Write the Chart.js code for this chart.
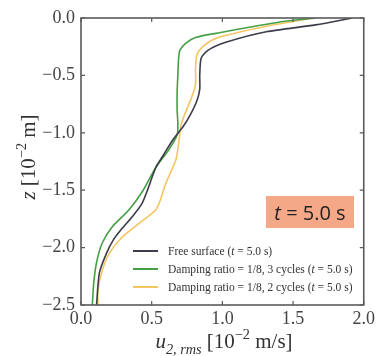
<!DOCTYPE html>
<html>
<head>
<meta charset="utf-8">
<script src="https://cdn.jsdelivr.net/npm/chart.js@4"></script>
<style>
  html, body { margin: 0; padding: 0; background: #fff; }
  #wrap { width: 378px; height: 356px; }
</style>
</head>
<body>
<div id="wrap"><canvas id="myChart" width="378" height="356"></canvas></div>
<script>
// depth z [10^-2 m] and u_2,rms [10^-2 m/s]
const zFree = [0, -0.06, -0.12, -0.21, -0.28, -0.35, -0.5, -0.62, -0.72, -0.85, -0.95, -1.06, -1.2, -1.3, -1.5, -1.62, -1.72, -1.82, -1.93, -2.05, -2.22, -2.5];
const uFree = [1.92, 1.66, 1.31, 1.03, 0.9, 0.85, 0.84, 0.84, 0.82, 0.77, 0.72, 0.65, 0.58, 0.53, 0.47, 0.43, 0.37, 0.3, 0.23, 0.18, 0.13, 0.11];

const z3cyc = [0, -0.03, -0.08, -0.13, -0.17, -0.22, -0.28, -0.36, -0.5, -0.64, -0.8, -0.92, -1.02, -1.15, -1.3, -1.5, -1.67, -1.82, -1.96, -2.13, -2.31, -2.5];
const u3cyc = [1.66, 1.43, 1.19, 0.97, 0.81, 0.74, 0.7, 0.69, 0.685, 0.68, 0.68, 0.685, 0.68, 0.62, 0.53, 0.44, 0.34, 0.22, 0.15, 0.11, 0.09, 0.08];

const z2cyc = [0, -0.08, -0.17, -0.24, -0.32, -0.45, -0.58, -0.7, -0.82, -0.92, -1.0, -1.1, -1.24, -1.44, -1.59, -1.67, -1.79, -1.91, -2.05, -2.2, -2.37, -2.5];
const u2cyc = [1.64, 1.28, 0.97, 0.87, 0.82, 0.81, 0.81, 0.78, 0.74, 0.71, 0.7, 0.69, 0.67, 0.6, 0.56, 0.53, 0.41, 0.29, 0.2, 0.15, 0.12, 0.12];

const seriesNames = ["Free surface", "Damping ratio = 1/8, 3 cycles", "Damping ratio = 1/8, 2 cycles"];
const seriesColors = ["#3c3c4a", "#45a045", "#f5c563"];
const xTicks = [0, 0.5, 1.0, 1.5, 2.0];
const yTicks = [0, -0.5, -1.0, -1.5, -2.0, -2.5];

const toPoints = (us, zs) => us.map((u, i) => ({ x: u, y: zs[i] }));
const serif = "'Liberation Serif', 'DejaVu Serif', serif";
const fmt = v => Number(v).toFixed(1).replace("-", "\u2212");

// draws a run of [text, style] pieces; style: 'i' italic, 'sub', 'sup'
function drawRich(ctx, parts, x, y, size, align) {
  const fontOf = (p) => {
    const s = (p[1] || "").includes("sub") || (p[1] || "").includes("sup") ? size * 0.68 : size;
    return ((p[1] || "").includes("i") ? "italic " : "") + s + "px " + serif;
  };
  let total = 0;
  parts.forEach(p => { ctx.font = fontOf(p); total += ctx.measureText(p[0]).width; });
  let cx = align === "center" ? x - total / 2 : x;
  ctx.textAlign = "left";
  ctx.textBaseline = "alphabetic";
  parts.forEach(p => {
    ctx.font = fontOf(p);
    let dy = 0;
    if ((p[1] || "").includes("sub")) dy = size * 0.28;
    if ((p[1] || "").includes("sup")) dy = -size * 0.42;
    ctx.fillText(p[0], cx, y + dy);
    cx += ctx.measureText(p[0]).width;
  });
}

const decor = {
  id: "decor",
  afterDraw(chart) {
    const { ctx, chartArea: a, scales } = chart;
    ctx.save();
    // frame
    ctx.strokeStyle = "#5a5a5a";
    ctx.lineWidth = 1.6;
    ctx.strokeRect(a.left, a.top, a.right - a.left, a.bottom - a.top);
    // inward ticks on all four sides
    ctx.lineWidth = 1.2;
    ctx.beginPath();
    xTicks.forEach(v => {
      const px = scales.x.getPixelForValue(v);
      ctx.moveTo(px, a.bottom); ctx.lineTo(px, a.bottom - 4);
      ctx.moveTo(px, a.top); ctx.lineTo(px, a.top + 4);
    });
    yTicks.forEach(v => {
      const py = scales.y.getPixelForValue(v);
      ctx.moveTo(a.left, py); ctx.lineTo(a.left + 4, py);
      ctx.moveTo(a.right, py); ctx.lineTo(a.right - 4, py);
    });
    ctx.stroke();

    // legend
    const lx = 133, ly = [251, 269, 287];
    seriesNames.forEach((name, i) => {
      ctx.strokeStyle = seriesColors[i];
      ctx.lineWidth = 2;
      ctx.beginPath();
      ctx.moveTo(lx, ly[i]); ctx.lineTo(lx + 25, ly[i]);
      ctx.stroke();
      ctx.fillStyle = "#333";
      drawRich(ctx, [[name + " ("], ["t", "i"], [" = 5.0 s)"]], lx + 35, ly[i] + 4, 11.5, "left");
    });

    // time annotation box
    ctx.fillStyle = "#f4a888";
    ctx.fillRect(266, 196, 88, 32);
    ctx.fillStyle = "#222";
    ctx.textBaseline = "alphabetic";
    ctx.font = "italic 20px 'Open Sans', sans-serif";
    const tw = ctx.measureText("t").width;
    ctx.font = "20px 'Open Sans', sans-serif";
    const rw = ctx.measureText(" = 5.0 s").width;
    const sx = 310 - (tw + rw) / 2;
    ctx.font = "italic 20px 'Open Sans', sans-serif";
    ctx.fillText("t", sx, 220);
    ctx.font = "20px 'Open Sans', sans-serif";
    ctx.fillText(" = 5.0 s", sx + tw, 220);

    // axis titles
    ctx.fillStyle = "#333";
    drawRich(ctx, [["u", "i"], ["2, rms", "i sub"], [" [10"], ["\u22122", "sup"], [" m/s]"]], 224, 348, 21, "center");
    ctx.translate(35, 157);
    ctx.rotate(-Math.PI / 2);
    drawRich(ctx, [["z", "i"], [" [10"], ["\u22122", "sup"], [" m]"]], 0, 0, 21, "center");
    ctx.restore();
  }
};

new Chart("myChart", {
  type: "scatter",
  data: {
    datasets: [
      { label: seriesNames[0], data: toPoints(uFree, zFree), borderColor: seriesColors[0] },
      { label: seriesNames[1], data: toPoints(u3cyc, z3cyc), borderColor: seriesColors[1] },
      { label: seriesNames[2], data: toPoints(u2cyc, z2cyc), borderColor: seriesColors[2] },
    ].map(d => Object.assign(d, { showLine: true, pointRadius: 0, borderWidth: 1.6, tension: 0.25, fill: false })),
  },
  options: {
    responsive: false,
    animation: false,
    layout: { padding: { top: 18, right: 10, left: 0, bottom: 0 } },
    plugins: { legend: { display: false }, tooltip: { enabled: false } },
    scales: {
      x: {
        min: 0, max: 2,
        afterFit: s => { s.height = 51; },
        afterBuildTicks: s => { s.ticks = xTicks.map(v => ({ value: v })); },
        grid: { drawOnChartArea: false, drawTicks: false },
        border: { display: false },
        ticks: { callback: fmt, color: "#444", padding: 3, maxRotation: 0, font: { family: serif, size: 18 } },
      },
      y: {
        min: -2.5, max: 0,
        afterFit: s => { s.width = 81; },
        afterBuildTicks: s => { s.ticks = yTicks.map(v => ({ value: v })); },
        grid: { drawOnChartArea: false, drawTicks: false },
        border: { display: false },
        ticks: { callback: fmt, color: "#444", padding: 6, font: { family: serif, size: 18 } },
      },
    },
  },
  plugins: [decor],
});
</script>
</body>
</html>
